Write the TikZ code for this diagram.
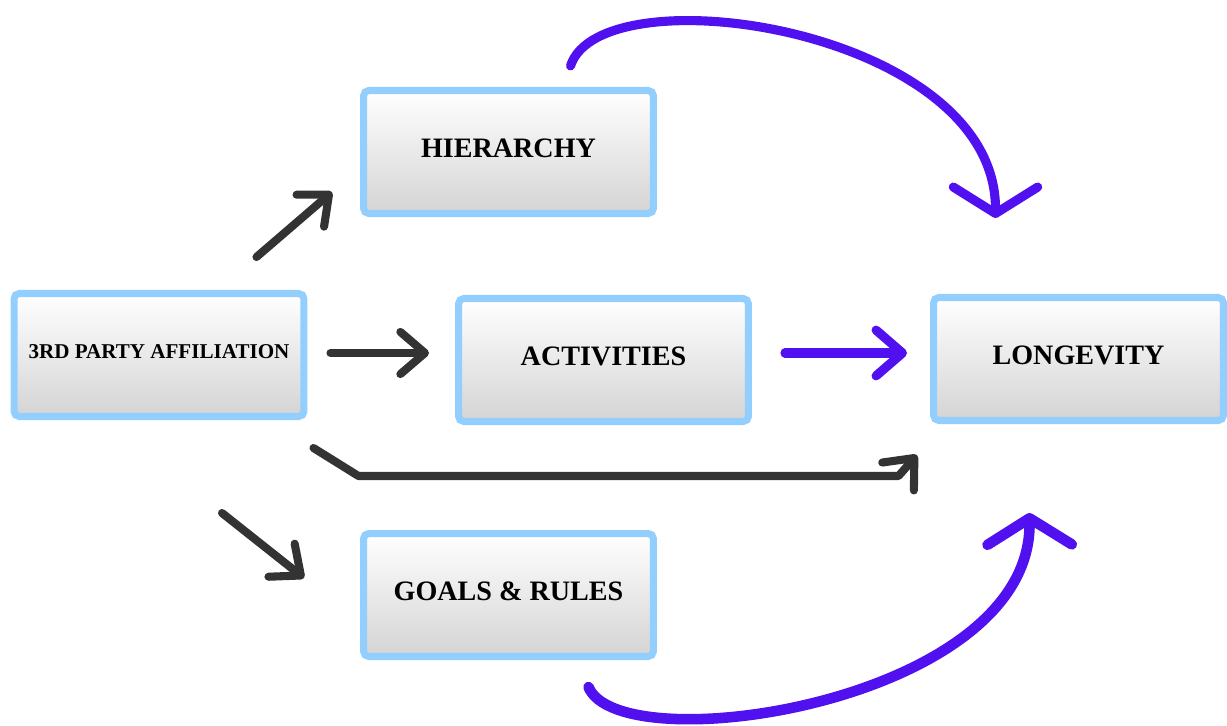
\documentclass[tikz,border=0pt]{standalone}
\usepackage{fontspec}
\setmainfont{Liberation Serif}
\usetikzlibrary{arrows.meta,calc}
\definecolor{boxline}{HTML}{92CFFF}
\definecolor{boxgray}{HTML}{D4D4D4}
\definecolor{darkline}{HTML}{333333}
\definecolor{penblue}{HTML}{5010F0}
\begin{document}
\begin{tikzpicture}[x=0.02cm,y=-0.02cm,
	box/.style={draw=boxline, line width=4pt, rounded corners=3pt, top color=white, bottom color=boxgray, minimum width=5.8cm, minimum height=2.46cm, text depth=4.5pt, font=\bfseries\fontsize{16}{18}\selectfont},
	darr/.style={draw=darkline, line width=4.6pt, line cap=round, line join=round, -{Straight Barb[length=14pt,width=24pt,round]}},
	barr/.style={draw=penblue, line width=5.2pt, line cap=round, -{Straight Barb[length=15pt,width=48pt,round]}}]
	\useasboundingbox (0,0) rectangle (1227,726);
	
	%The boxes
	\node[box, font=\bfseries\fontsize{12}{14}\selectfont] (aff) at (159,355) {3RD PARTY AFFILIATION};
	\node[box] (hier) at (508.5,152) {HIERARCHY};
	\node[box] (act) at (603.5,360) {ACTIVITIES};
	\node[box] (lon) at (1078.5,359) {LONGEVITY};
	\node[box] (goals) at (508.5,595) {GOALS \& RULES};
	
	%Dark arrows
	\draw[darr] ($(aff.north east)+(-51,-33)$) -- ($(hier.south west)+(-28,-25)$);
	\draw[darr] ($(aff.east)+(23,-2)$) -- ($(act.west)+(-26,-7)$);
	\draw[darr] ($(aff.south)+(63,93)$) -- ($(goals.west)+(-56,-17)$);
	\draw[darr] ($(aff.south east)+(6,28)$) -- ++(45,28) -- ++(540,0) -- ($(lon.south west)+(-13,31)$);
	
	%Blue arrows
	\draw[barr, -{Straight Barb[length=15pt,width=26pt,round]}] ($(act.east)+(33,-7)$) -- ($(lon.west)+(-23,-6)$);
	\draw[barr] ($(hier.north)+(62,-21)$) .. controls +(30,-95) and +(0,-190) .. ($(lon.north)+(-83,-76)$);
	\draw[barr, line width=6pt] ($(goals.south)+(80,27)$) .. controls +(31,76) and +(1,190) .. ($(lon.south)+(-49,89)$);
\end{tikzpicture}
\end{document}
